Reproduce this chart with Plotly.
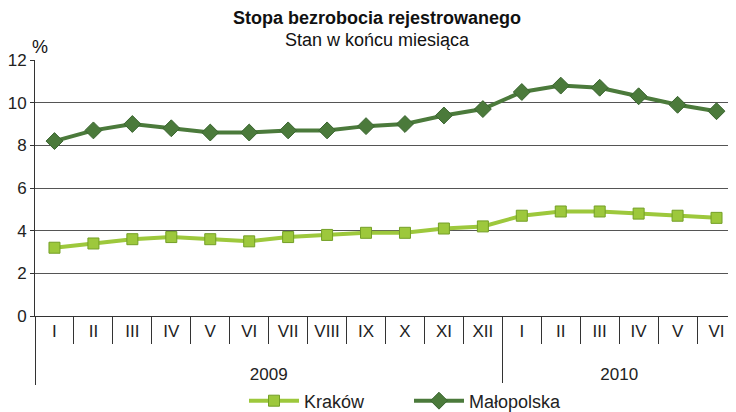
import plotly.graph_objects as go

years = ["2009"] * 12 + ["2010"] * 6
months = ["I", "II", "III", "IV", "V", "VI", "VII", "VIII", "IX", "X", "XI", "XII",
          "I", "II", "III", "IV", "V", "VI"]
krakow = [3.2, 3.4, 3.6, 3.7, 3.6, 3.5, 3.7, 3.8, 3.9, 3.9, 4.1, 4.2,
          4.7, 4.9, 4.9, 4.8, 4.7, 4.6]
malopolska = [8.2, 8.7, 9.0, 8.8, 8.6, 8.6, 8.7, 8.7, 8.9, 9.0, 9.4, 9.7,
              10.5, 10.8, 10.7, 10.3, 9.9, 9.6]
y_ticks = [0, 2, 4, 6, 8, 10, 12]

FONT = "Liberation Sans, Arial, sans-serif"
# the page body has an 8px margin; lay the figure out in screen pixels minus that offset
OFF = 8
W, H = 736 - OFF, 412 - OFF
ML, MR, MT, MB = 35 - OFF, 0, 60 - OFF, 412 - 316
PW, PH = W - ML - MR, H - MT - MB

# month labels padded with an empty second line so the year row sits lower
month_text = [m + "<br> " for m in months]

fig = go.Figure()
fig.add_trace(go.Scatter(
    x=[years, month_text], y=krakow, name="Kraków", mode="lines+markers",
    line=dict(color="#9DC83C", width=4),
    marker=dict(symbol="square", size=11, color="#9DC83C",
                line=dict(color="#739F26", width=1)),
))
fig.add_trace(go.Scatter(
    x=[years, month_text], y=malopolska, name="Małopolska", mode="lines+markers",
    line=dict(color="#4B7A3B", width=4),
    marker=dict(symbol="diamond", size=13, color="#4B7A3B",
                line=dict(color="#3A6530", width=1)),
))

def px_ann(text, x, y, size, bold=False):
    # x, y are screen pixels
    return dict(text=f"<b>{text}</b>" if bold else text,
                xref="paper", yref="paper",
                x=(x - OFF - ML) / PW, y=(H - MB - (y - OFF)) / PH,
                xanchor="center", yanchor="middle", showarrow=False,
                font=dict(size=size, color="#111"))

fig.update_layout(
    width=W, height=H,
    margin=dict(l=ML, r=MR, t=MT, b=MB, autoexpand=False),
    plot_bgcolor="white", paper_bgcolor="white",
    font=dict(family=FONT, color="#222", size=17),
    showlegend=True,
    legend=dict(orientation="h", x=(409 - 35) / PW, xanchor="center",
                y=-(401 - 316) / PH, yanchor="middle",
                font=dict(size=18, color="#222"), itemwidth=50,
                entrywidth=100, tracegroupgap=0),
    annotations=[
        px_ann("Stopa bezrobocia rejestrowanego", 377, 18, 18, bold=True),
        px_ann("Stan w końcu miesiąca", 377, 40, 18),
        px_ann("%", 40, 47, 18),
    ],
)
fig.update_xaxes(
    type="multicategory", range=[-0.5, 17.5], automargin=False,
    showline=True, linecolor="#333", linewidth=1,
    ticks="outside", tickson="boundaries", ticklen=27, tickcolor="#333",
    showdividers=True, dividercolor="#333", dividerwidth=1,
    tickfont=dict(size=17, color="#222"), showgrid=False,
)
fig.update_yaxes(
    range=[0, 12], tickvals=y_ticks, showgrid=True, gridcolor="#555", gridwidth=1,
    showline=True, linecolor="#333", ticks="outside", ticklen=4, tickcolor="#333",
    tickfont=dict(size=17, color="#222"), zeroline=False, automargin=False,
)
fig.write_html("out.html")
